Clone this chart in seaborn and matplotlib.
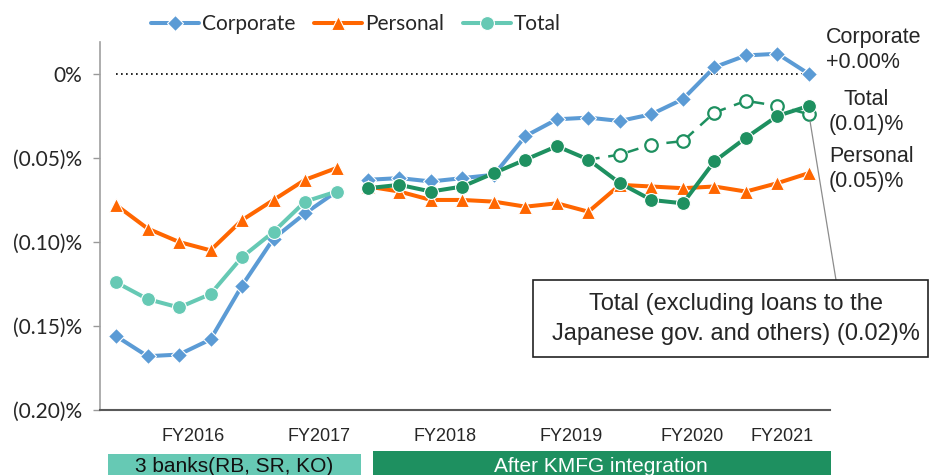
import matplotlib
matplotlib.use("Agg")
import matplotlib.pyplot as plt
import matplotlib.transforms as mtransforms
from matplotlib.patches import Rectangle
import seaborn as sns

# Quarter index: 0..7 = 3 banks period, 8..22 = after KMFG integration
q_left = list(range(0, 8))
q_right = list(range(8, 23))
q_ex = list(range(15, 23))

corp_left = [-0.156, -0.168, -0.167, -0.158, -0.126, -0.098, -0.083, -0.070]
pers_left = [-0.078, -0.092, -0.100, -0.105, -0.087, -0.075, -0.063, -0.056]
total_left = [-0.124, -0.134, -0.139, -0.131, -0.109, -0.094, -0.076, -0.070]

corp_right = [-0.063, -0.062, -0.064, -0.062, -0.060, -0.037, -0.027, -0.026,
              -0.028, -0.024, -0.015, 0.004, 0.011, 0.012, 0.000]
pers_right = [-0.067, -0.070, -0.075, -0.075, -0.076, -0.079, -0.077, -0.082,
              -0.066, -0.067, -0.068, -0.067, -0.070, -0.065, -0.059]
total_right = [-0.068, -0.066, -0.070, -0.067, -0.059, -0.051, -0.043, -0.051,
               -0.065, -0.075, -0.077, -0.052, -0.038, -0.025, -0.019]
total_ex = [-0.051, -0.048, -0.042, -0.040, -0.023, -0.016, -0.019, -0.024]

fy_labels = ["FY2016", "FY2017", "FY2018", "FY2019", "FY2020", "FY2021"]
fy_pos = [2.45, 6.45, 10.45, 14.45, 18.3, 21.15]
y_ticks = [0, -0.05, -0.10, -0.15, -0.20]
y_labels = ["0%", "(0.05)%", "(0.10)%", "(0.15)%", "(0.20)%"]

BLUE = "#5B9BD5"
ORANGE = "#FF6600"
TEAL = "#66C9B4"
GREEN = "#1E9060"

sns.set_theme(style="white")
plt.rcParams["font.family"] = ["Liberation Sans", "DejaVu Sans"]

fig = plt.figure(figsize=(9.3, 4.75), dpi=100)
ax = fig.add_axes([100 / 930, 1 - 410 / 475, 730 / 930, 368 / 475])

lw = 2.9
common = dict(ax=ax, linewidth=lw, markeredgecolor="white", markeredgewidth=0.8)

sns.lineplot(x=q_left, y=corp_left, color=BLUE, marker="D", markersize=8,
             label="Corporate", **common)
sns.lineplot(x=q_left, y=pers_left, color=ORANGE, marker="^", markersize=10.5,
             label="Personal", **common)
sns.lineplot(x=q_left, y=total_left, color=TEAL, marker="o", markersize=10,
             label="Total", **common)

sns.lineplot(x=q_right, y=corp_right, color=BLUE, marker="D", markersize=8, **common)
sns.lineplot(x=q_right, y=pers_right, color=ORANGE, marker="^", markersize=10.5, **common)
sns.lineplot(x=q_ex, y=total_ex, ax=ax, color=GREEN, linewidth=1.8,
             marker="o", markersize=9, markerfacecolor="white",
             markeredgecolor=GREEN, markeredgewidth=1.6, markevery=list(range(1, len(q_ex))))
ax.lines[-1].set_linestyle((0, (4.5, 3.5)))
sns.lineplot(x=q_right, y=total_right, color=GREEN, marker="o", markersize=10, **common)

# zero reference line
ax.hlines(0, q_left[0], q_right[-1], colors="black", linestyles=(0, (1, 2)), linewidth=1.2, zorder=1)

ax.set_xlim(-0.51, 22.67)
ax.set_ylim(-0.20, 0.019)
ax.set_yticks(y_ticks)
ax.set_yticklabels(y_labels, fontsize=15, family=["Lato", "DejaVu Sans"])
ax.set_xticks(fy_pos)
ax.set_xticklabels(fy_labels, fontsize=13, family=["Liberation Sans Narrow", "Liberation Sans"])
ax.tick_params(axis="x", length=0, pad=13)
ax.tick_params(axis="y", length=5, width=1, color="#999999", left=True, direction="out", pad=8)
ax.set_xlabel("")
ax.set_ylabel("")
for s in ["top", "right"]:
    ax.spines[s].set_visible(False)
ax.spines["left"].set_color("#A0A0A0")
ax.spines["left"].set_linewidth(1.2)
ax.spines["bottom"].set_color("#595959")
ax.spines["bottom"].set_linewidth(1.5)

# legend
handles, labels = ax.get_legend_handles_labels()
ax.legend(handles[:3], labels[:3], ncol=3, frameon=False, loc="center",
          bbox_to_anchor=(356 / 930, 1 - 24 / 475), bbox_transform=fig.transFigure,
          prop={"family": ["Lato", "DejaVu Sans"], "size": 15},
          handlelength=2.3, columnspacing=0.9, handletextpad=0.15)

# right-side labels
fig.text(826 / 930, 1 - 50 / 475, "Corporate\n+0.00%", fontsize=15.5, ha="left", va="center",
         linespacing=1.25)
fig.text(866 / 930, 1 - 112 / 475, "Total\n(0.01)%", fontsize=15.5, ha="center", va="center",
         linespacing=1.25)
fig.text(829 / 930, 1 - 169 / 475, "Personal\n(0.05)%", fontsize=15.5, ha="left", va="center",
         linespacing=1.25)

# box for total excluding government loans
fig.patches.append(Rectangle((533 / 930, 1 - 357 / 475), 395 / 930, 77 / 475,
                             transform=fig.transFigure, facecolor="white",
                             edgecolor="#222222", linewidth=1.2, zorder=5))
fig.text(736 / 930, 1 - 319 / 475, "Total (excluding loans to the\nJapanese gov. and others) (0.02)%",
         fontsize=17, ha="center", va="center", linespacing=1.45, zorder=6)
ax.annotate("", xy=(q_ex[-1], total_ex[-1]), xytext=(836 / 930, 1 - 280 / 475),
            textcoords="figure fraction", annotation_clip=False,
            arrowprops=dict(arrowstyle="-", color="#8C8C8C", lw=0.9, shrinkA=0, shrinkB=5))

# period banners under the axis
trans = mtransforms.blended_transform_factory(ax.transData, fig.transFigure)
fig.patches.append(Rectangle((-0.26, 0), 8.05, 21 / 475, transform=trans,
                             facecolor=TEAL, edgecolor="none"))
fig.patches.append(Rectangle((8.15, 0), 14.55, 24 / 475, transform=trans,
                             facecolor=GREEN, edgecolor="none"))
fig.text(3.76, 9 / 475, "3 banks(RB, SR, KO)", transform=trans, ha="center", va="center",
         fontsize=15, color="#111111", family=["Liberation Sans Narrow", "Liberation Sans"])
fig.text(15.4, 9 / 475, "After KMFG integration", transform=trans, ha="center", va="center",
         fontsize=15, color="white", family=["Liberation Sans Narrow", "Liberation Sans"])

fig.savefig("out.png", dpi=100)
